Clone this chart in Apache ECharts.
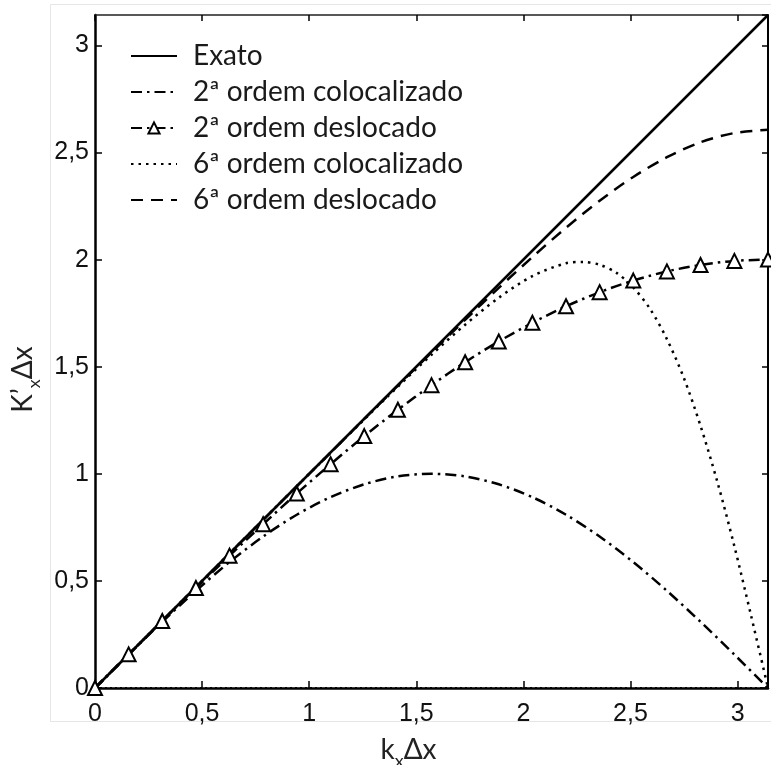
<!DOCTYPE html>
<html>
<head>
<meta charset="utf-8">
<script src="https://cdn.jsdelivr.net/npm/echarts@6/dist/echarts.min.js"></script>
<style>
  html, body { margin: 0; padding: 0; background: #fff; }
  #chart { width: 771px; height: 765px; }
</style>
</head>
<body>
<div id="chart"></div>
<script>
// Modified wavenumber K'x·Δx versus kx·Δx for several finite-difference schemes
var PI_END = 3.142;
var xTicks = [0, 0.5, 1, 1.5, 2, 2.5, 3];

// Exact relation
var exatoX = [0, PI_END];
var exatoY = [0, PI_END];

// Common sampling in kx·Δx (steps of π/20)
var xs = [0, 0.157, 0.314, 0.471, 0.628, 0.785, 0.942, 1.100, 1.257, 1.414,
          1.571, 1.728, 1.885, 2.042, 2.199, 2.356, 2.513, 2.670, 2.827, 2.985, 3.142];

// 2nd order, collocated
var col2Y = [0, 0.156, 0.309, 0.454, 0.588, 0.707, 0.809, 0.891, 0.951, 0.988,
             1.000, 0.988, 0.951, 0.891, 0.809, 0.707, 0.588, 0.454, 0.309, 0.156, 0];

// 2nd order, staggered (with triangle markers)
var stag2Y = [0, 0.157, 0.313, 0.467, 0.618, 0.765, 0.908, 1.045, 1.176, 1.299,
              1.414, 1.521, 1.618, 1.705, 1.782, 1.848, 1.902, 1.945, 1.975, 1.994, 2.000];

// 6th order, collocated (denser near the steep drop)
var col6X = [0, 0.157, 0.314, 0.471, 0.628, 0.785, 0.942, 1.100, 1.257, 1.414,
             1.571, 1.728, 1.885, 2.042, 2.199, 2.278, 2.356, 2.435, 2.513, 2.592,
             2.670, 2.749, 2.827, 2.906, 2.985, 3.063, 3.142];
var col6Y = [0, 0.157, 0.314, 0.471, 0.628, 0.785, 0.942, 1.099, 1.254, 1.407,
             1.556, 1.696, 1.822, 1.923, 1.983, 1.989, 1.976, 1.938, 1.870, 1.769,
             1.629, 1.448, 1.224, 0.961, 0.662, 0.338, 0];

// 6th order, staggered
var stag6Y = [0, 0.157, 0.314, 0.471, 0.628, 0.785, 0.942, 1.099, 1.256, 1.412,
              1.566, 1.719, 1.868, 2.012, 2.149, 2.275, 2.386, 2.478, 2.548, 2.591, 2.606];

// Dotted trace lying along the horizontal axis
var baseX = [0, PI_END];
var baseY = [0, 0];

var names = ['Exato', '2ª ordem colocalizado', '2ª ordem deslocado',
             '6ª ordem colocalizado', '6ª ordem deslocado'];

function pairs(x, y) { return x.map(function (v, i) { return [v, y[i]]; }); }

var DASHDOT = [11, 5, 2.5, 5];
var DASHED = [12, 8];
var DOTTED = [2.5, 5];

var tickFont = { fontFamily: 'Liberation Sans', fontSize: 25, color: '#111' };
function fmt(v) { return String(v).replace('.', ','); }

var titleRich = {
  b: { fontFamily: 'Lato', fontSize: 28, color: '#222', lineHeight: 34, verticalAlign: 'bottom' },
  s: { fontFamily: 'Lato', fontSize: 18, color: '#222', lineHeight: 18, verticalAlign: 'bottom', padding: [0, 0, -6, 0] }
};

// Legend entries: only the staggered 2nd-order item keeps its marker
var legendData = names.map(function (n, i) {
  return i === 2 ? { name: n } : { name: n, itemStyle: { opacity: 0 } };
});

var chart = echarts.init(document.getElementById('chart'), null, { renderer: 'canvas' });

var option = {
  backgroundColor: '#fff',
  animation: false,
  graphic: [{
    type: 'rect', z: -10, silent: true,
    shape: { x: 50.5, y: 4.5, width: 740, height: 717 },
    style: { fill: 'none', stroke: '#e6e6e6', lineWidth: 1 }
  }],
  grid: { left: 95, top: 15, width: 673, height: 673, containLabel: false, outerBoundsMode: 'none' },
  legend: {
    data: legendData,
    orient: 'vertical',
    left: 130, top: 41, padding: 0,
    itemWidth: 46, itemHeight: 14, itemGap: 6,
    textStyle: {
      fontFamily: 'Lato', fontSize: 28, color: '#1a1a1a',
      lineHeight: 30, padding: [0, 0, 0, 11]
    },
    selectedMode: false
  },
  xAxis: [{
    type: 'value', min: 0, max: PI_END, interval: 0.5, position: 'bottom',
    name: '{b|k}{s|x}{b|Δx}', nameLocation: 'middle', nameGap: 42,
    nameTextStyle: { rich: titleRich, padding: [0, 46, 0, 0] },
    axisLine: { show: true, onZero: false, lineStyle: { color: '#000', width: 2.5 } },
    axisTick: { show: true, inside: true, length: 7, lineStyle: { color: '#000', width: 1.5 } },
    axisLabel: Object.assign({ margin: 14, formatter: fmt, showMaxLabel: false }, tickFont),
    splitLine: { show: false }
  }, {
    type: 'value', min: 0, max: PI_END, interval: 0.5, position: 'top',
    axisLine: { show: true, onZero: false, lineStyle: { color: '#222', width: 1.5 } },
    axisTick: { show: true, inside: true, length: 6, lineStyle: { color: '#000', width: 1.5 } },
    axisLabel: { show: false },
    splitLine: { show: false }
  }],
  yAxis: [{
    type: 'value', min: 0, max: PI_END, interval: 0.5, position: 'left',
    name: '{b|K’}{s|x}{b|Δx}', nameLocation: 'middle', nameGap: 56, nameRotate: 90,
    nameTextStyle: { rich: titleRich, padding: [0, 56, 0, 0] },
    axisLine: { show: true, onZero: false, lineStyle: { color: '#000', width: 2.5 } },
    axisTick: { show: true, inside: true, length: 7, lineStyle: { color: '#000', width: 1.5 } },
    axisLabel: Object.assign({ margin: 6, formatter: fmt, showMaxLabel: false }, tickFont),
    splitLine: { show: false }
  }, {
    type: 'value', min: 0, max: PI_END, interval: 0.5, position: 'right',
    axisLine: { show: true, onZero: false, lineStyle: { color: '#000', width: 2 } },
    axisTick: { show: true, inside: true, length: 6, lineStyle: { color: '#000', width: 1.5 } },
    axisLabel: { show: false },
    splitLine: { show: false }
  }],
  series: [{
    name: names[0], type: 'line', symbol: 'none',
    data: pairs(exatoX, exatoY),
    lineStyle: { color: '#000', width: 2.5 },
    itemStyle: { color: '#000' }
  }, {
    name: names[1], type: 'line', symbol: 'none', smooth: 0.3,
    data: pairs(xs, col2Y),
    lineStyle: { color: '#000', width: 2.5, type: DASHDOT },
    itemStyle: { color: '#000' }
  }, {
    name: names[2], type: 'line', smooth: 0.3,
    symbol: 'triangle', symbolSize: 14, showSymbol: true, showAllSymbol: true,
    data: pairs(xs, stag2Y),
    lineStyle: { color: '#000', width: 2.5, type: DASHDOT },
    itemStyle: { color: '#fff', borderColor: '#000', borderWidth: 2 },
    z: 5
  }, {
    name: names[3], type: 'line', symbol: 'none', smooth: 0.3,
    data: pairs(col6X, col6Y),
    lineStyle: { color: '#000', width: 2.5, type: DOTTED },
    itemStyle: { color: '#000' }
  }, {
    name: names[4], type: 'line', symbol: 'none', smooth: 0.3,
    data: pairs(xs, stag6Y),
    lineStyle: { color: '#000', width: 2.5, type: DASHED },
    itemStyle: { color: '#000' }
  }, {
    name: 'base', type: 'line', symbol: 'none', silent: true,
    data: pairs(baseX, baseY),
    lineStyle: { color: '#000', width: 2, type: [2, 3] }
  }]
};

chart.setOption(option);
</script>
</body>
</html>
